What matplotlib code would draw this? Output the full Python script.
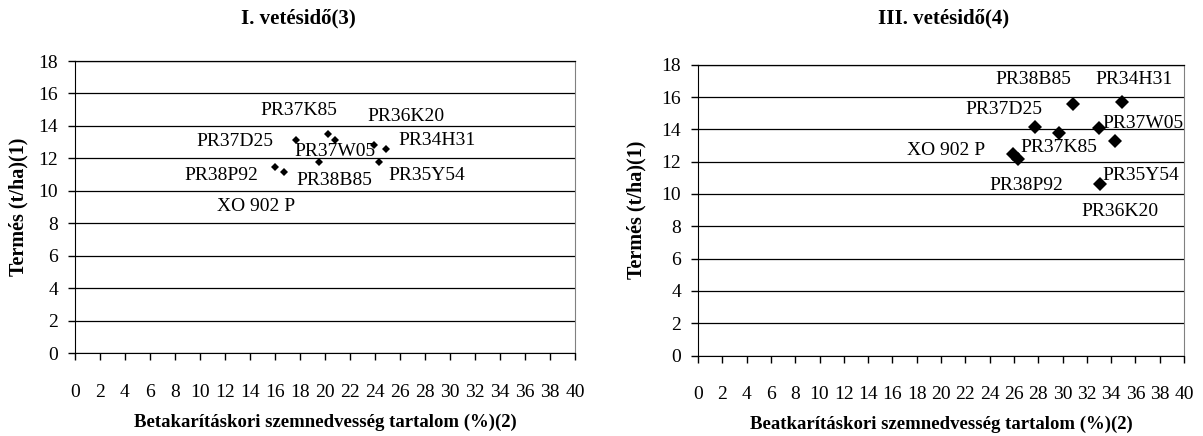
import matplotlib
matplotlib.use("Agg")
import matplotlib.pyplot as plt

plt.rcParams['font.family'] = ['Liberation Serif', 'DejaVu Serif']

# ---- data ----
hybrids = ["PR37D25", "PR37K85", "PR37W05", "PR36K20", "PR34H31",
           "PR35Y54", "PR38B85", "PR38P92", "XO 902 P"]

moist_1 = [17.7, 20.2, 20.8, 23.9, 24.9, 24.3, 19.5, 16.0, 16.7]
yield_1 = [13.13, 13.48, 13.13, 12.83, 12.56, 11.80, 11.76, 11.49, 11.14]

moist_3 = [27.7, 29.7, 33.0, 34.3, 34.9, 33.1, 30.9, 26.36, 25.95]
yield_3 = [14.16, 13.80, 14.10, 13.30, 15.70, 10.60, 15.54, 12.14, 12.45]

title_1 = "I. vetésidő(3)"
title_3 = "III. vetésidő(4)"
ylabel = "Termés (t/ha)(1)"
xlabel_1 = "Betakarításkori szemnedvesség tartalom (%)(2)"
xlabel_3 = "Beatkarításkori szemnedvesség tartalom (%)(2)"

xticks = list(range(0, 41, 2))
yticks = list(range(0, 19, 2))

# label offsets in pixels (dx, dy)
offs_1 = [(-61, -1), (-29, 24), (0, -11), (32, 28), (51, 9),
          (48, -14), (16, -18), (-54, -9), (-28, -34)]
offs_3 = [(-31, 17), (0, -15), (44, 4), (5, -71), (12, 22),
          (41, 9), (-40, 25), (8, -26), (-67, 4)]

W, H = 1203, 436
fig = plt.figure(figsize=(W / 100, H / 100), dpi=100)


def make_ax(x0, x1, ytop, ybot):
    return fig.add_axes([x0 / W, 1 - ybot / H, (x1 - x0) / W, (ybot - ytop) / H])


def style(ax, xs, ys, offs, msize, title, xlabel, title_x, ylab_x):
    ax.plot(xs, ys, linestyle='none', marker='D', markersize=msize,
            color='black', markeredgewidth=0, zorder=3)
    for name, x, y, (dx, dy) in zip(hybrids, xs, ys, offs):
        ax.annotate(name, (x, y), xytext=(dx, dy), textcoords='offset pixels',
                    ha='center', va='center', fontsize=14, color='black')
    ax.set_xlim(0, 40)
    ax.set_ylim(0, 18)
    ax.set_xticks(xticks)
    ax.set_yticks(yticks)
    ax.tick_params(axis='x', direction='out', length=5, width=1, pad=17,
                   labelsize=14)
    ax.tick_params(axis='y', direction='out', length=5, width=1, pad=7,
                   labelsize=14)
    ax.yaxis.grid(True, color='black', linewidth=0.9)
    ax.set_axisbelow(True)
    ax.spines['top'].set_color('black')
    ax.spines['top'].set_linewidth(0.9)
    ax.spines['right'].set_color('#808080')
    ax.spines['left'].set_color('black')
    ax.spines['bottom'].set_color('black')
    ax.set_xlabel(xlabel, fontsize=13.5, fontweight='bold', labelpad=9)
    fig.text(title_x / W, 1 - 18 / H, title, ha='center', va='center',
             fontsize=15, fontweight='bold')
    ax.set_ylabel(ylabel, fontsize=14.5, fontweight='bold')
    x0_px = ax.get_position().x0 * W
    x1_px = ax.get_position().x1 * W
    ax.yaxis.set_label_coords((ylab_x - x0_px) / (x1_px - x0_px), 0.5)


ax1 = make_ax(75, 575, 61, 353.3)
style(ax1, moist_1, yield_1, offs_1, 4, title_1, xlabel_1, 298, 28)

ax3 = make_ax(698, 1184, 64.7, 355.5)
style(ax3, moist_3, yield_3, offs_3, 7.5, title_3, xlabel_3, 944, 646)

fig.savefig("out.png", dpi=100)
